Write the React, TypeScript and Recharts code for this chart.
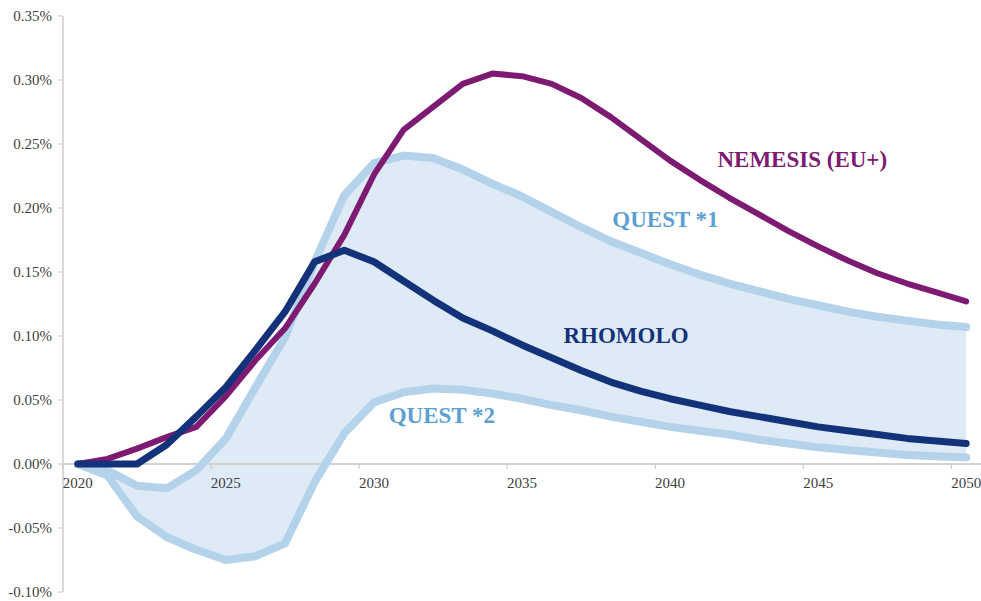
import { Area, ComposedChart, Line, ReferenceDot, ReferenceLine, XAxis, YAxis } from "recharts";

// values in percent (0.30 = 0.30%)
const years = [
  2020, 2021, 2022, 2023, 2024, 2025, 2026, 2027, 2028, 2029, 2030, 2031, 2032, 2033, 2034, 2035,
  2036, 2037, 2038, 2039, 2040, 2041, 2042, 2043, 2044, 2045, 2046, 2047, 2048, 2049, 2050,
];
const nemesis = [
  0, 0.004, 0.012, 0.021, 0.029, 0.053, 0.081, 0.106, 0.141, 0.179, 0.226, 0.261, 0.279, 0.297, 0.305,
  0.303, 0.297, 0.286, 0.271, 0.254, 0.237, 0.222, 0.208, 0.195, 0.182, 0.17, 0.159, 0.149, 0.141, 0.134,
  0.127,
];
const rhomolo = [
  0, 0, 0, 0.015, 0.037, 0.06, 0.089, 0.119, 0.158, 0.167, 0.158, 0.143, 0.128, 0.114, 0.104, 0.093,
  0.083, 0.073, 0.064, 0.057, 0.051, 0.046, 0.041, 0.037, 0.033, 0.029, 0.026, 0.023, 0.02, 0.018, 0.016,
];
const quest1 = [
  0, -0.005, -0.017, -0.019, -0.005, 0.02, 0.06, 0.099, 0.158, 0.21, 0.235, 0.241, 0.239, 0.23, 0.219,
  0.209, 0.197, 0.185, 0.174, 0.165, 0.156, 0.148, 0.141, 0.135, 0.129, 0.124, 0.119, 0.115, 0.112, 0.109,
  0.107,
];
const quest2 = [
  0, -0.009, -0.041, -0.057, -0.067, -0.075, -0.072, -0.062, -0.014, 0.024, 0.048, 0.056, 0.059, 0.058,
  0.055, 0.051, 0.046, 0.042, 0.037, 0.033, 0.029, 0.026, 0.023, 0.019, 0.016, 0.013, 0.011, 0.009, 0.007,
  0.006, 0.005,
];
const yTicks = [-0.1, -0.05, 0, 0.05, 0.1, 0.15, 0.2, 0.25, 0.3, 0.35];
const xTicks = [2020, 2025, 2030, 2035, 2040, 2045, 2050];

const data = years.map((year, i) => ({
  year,
  nemesis: nemesis[i],
  rhomolo: rhomolo[i],
  quest1: quest1[i],
  quest2: quest2[i],
}));

const CHART_W = 981;
const CHART_H = 601;
const MARGIN = { top: 16, right: 0, bottom: 8, left: 0 };
const Y_AXIS_W = 63;
const X_AXIS_H = 1;
const Y_MIN = -0.1;
const Y_MAX = 0.35;
const PLOT_H = CHART_H - MARGIN.top - MARGIN.bottom - X_AXIS_H;
const PLOT_W = CHART_W - MARGIN.left - MARGIN.right - Y_AXIS_W;
const ZERO_Y = MARGIN.top + (PLOT_H * Y_MAX) / (Y_MAX - Y_MIN);
const YEAR_W = PLOT_W / years.length;

const FONT = '"Liberation Serif", "Times New Roman", serif';
const AXIS_GREY = "#c6c6c6";

const PURPLE = "#7d1a72";
const NAVY = "#143279";
const LIGHT = "#b4d3ea";
const FILL = "#deeaf5";
const QUEST_TEXT = "#5b9fd3";

// Excel-style category axis drawn on the zero line: tick between categories, label centred
const YearTick = (props: any) => {
  const { x, payload } = props;
  const tx = x - YEAR_W / 2;
  return (
    <g>
      <line x1={tx} x2={tx} y1={ZERO_Y} y2={ZERO_Y + 5} stroke={AXIS_GREY} />
      <text x={x} y={ZERO_Y + 24} textAnchor="middle" fontFamily={FONT} fontSize={15} fill="#404040">
        {payload.value}
      </text>
    </g>
  );
};

const seriesLabel = (text: string, color: string) => (props: any) => (
  <text x={props.cx} y={props.cy} fontFamily={FONT} fontSize={23} fontWeight="bold" fill={color}>
    {text}
  </text>
);

export default function App() {
  return (
    <div>
      <style>{`body{margin:0}`}</style>
      <ComposedChart width={CHART_W} height={CHART_H} data={data} margin={MARGIN}>
        <XAxis
          dataKey="year"
          type="number"
          domain={[2019.5, 2050.5]}
          ticks={xTicks}
          interval={0}
          height={X_AXIS_H}
          axisLine={false}
          tickLine={false}
          tick={<YearTick />}
          allowDataOverflow
        />
        <YAxis
          type="number"
          domain={[Y_MIN, Y_MAX]}
          ticks={yTicks}
          interval={0}
          width={Y_AXIS_W}
          axisLine={{ stroke: AXIS_GREY, strokeWidth: 1.3 }}
          tickLine={{ stroke: AXIS_GREY }}
          tickSize={5}
          tickMargin={6}
          tickFormatter={(v: number) => `${v.toFixed(2)}%`}
          tick={{ fontFamily: FONT, fontSize: 15, fill: "#404040" }}
        />
        <ReferenceLine y={0} stroke="#d2d2d2" strokeWidth={2} />
        <Area
          type="linear"
          dataKey={(d: any) => [d.quest2, d.quest1]}
          stroke="none"
          fill={FILL}
          fillOpacity={1}
          dot={false}
          activeDot={false}
          isAnimationActive={false}
        />
        <Line type="linear" dataKey="quest1" stroke={LIGHT} strokeWidth={8} dot={false} strokeLinecap="round" strokeLinejoin="round" isAnimationActive={false} />
        <Line type="linear" dataKey="quest2" stroke={LIGHT} strokeWidth={8} dot={false} strokeLinecap="round" strokeLinejoin="round" isAnimationActive={false} />
        <Line type="linear" dataKey="nemesis" stroke={PURPLE} strokeWidth={6} dot={false} strokeLinecap="round" strokeLinejoin="round" isAnimationActive={false} />
        <Line type="linear" dataKey="rhomolo" stroke={NAVY} strokeWidth={7} dot={false} strokeLinecap="round" strokeLinejoin="round" isAnimationActive={false} />
        <ReferenceDot x={2041.6} y={0.232} r={0} ifOverflow="visible" shape={seriesLabel("NEMESIS (EU+)", PURPLE)} />
        <ReferenceDot x={2038.05} y={0.185} r={0} ifOverflow="visible" shape={seriesLabel("QUEST *1", QUEST_TEXT)} />
        <ReferenceDot x={2036.4} y={0.0945} r={0} ifOverflow="visible" shape={seriesLabel("RHOMOLO", NAVY)} />
        <ReferenceDot x={2030.5} y={0.032} r={0} ifOverflow="visible" shape={seriesLabel("QUEST *2", QUEST_TEXT)} />
      </ComposedChart>
    </div>
  );
}
